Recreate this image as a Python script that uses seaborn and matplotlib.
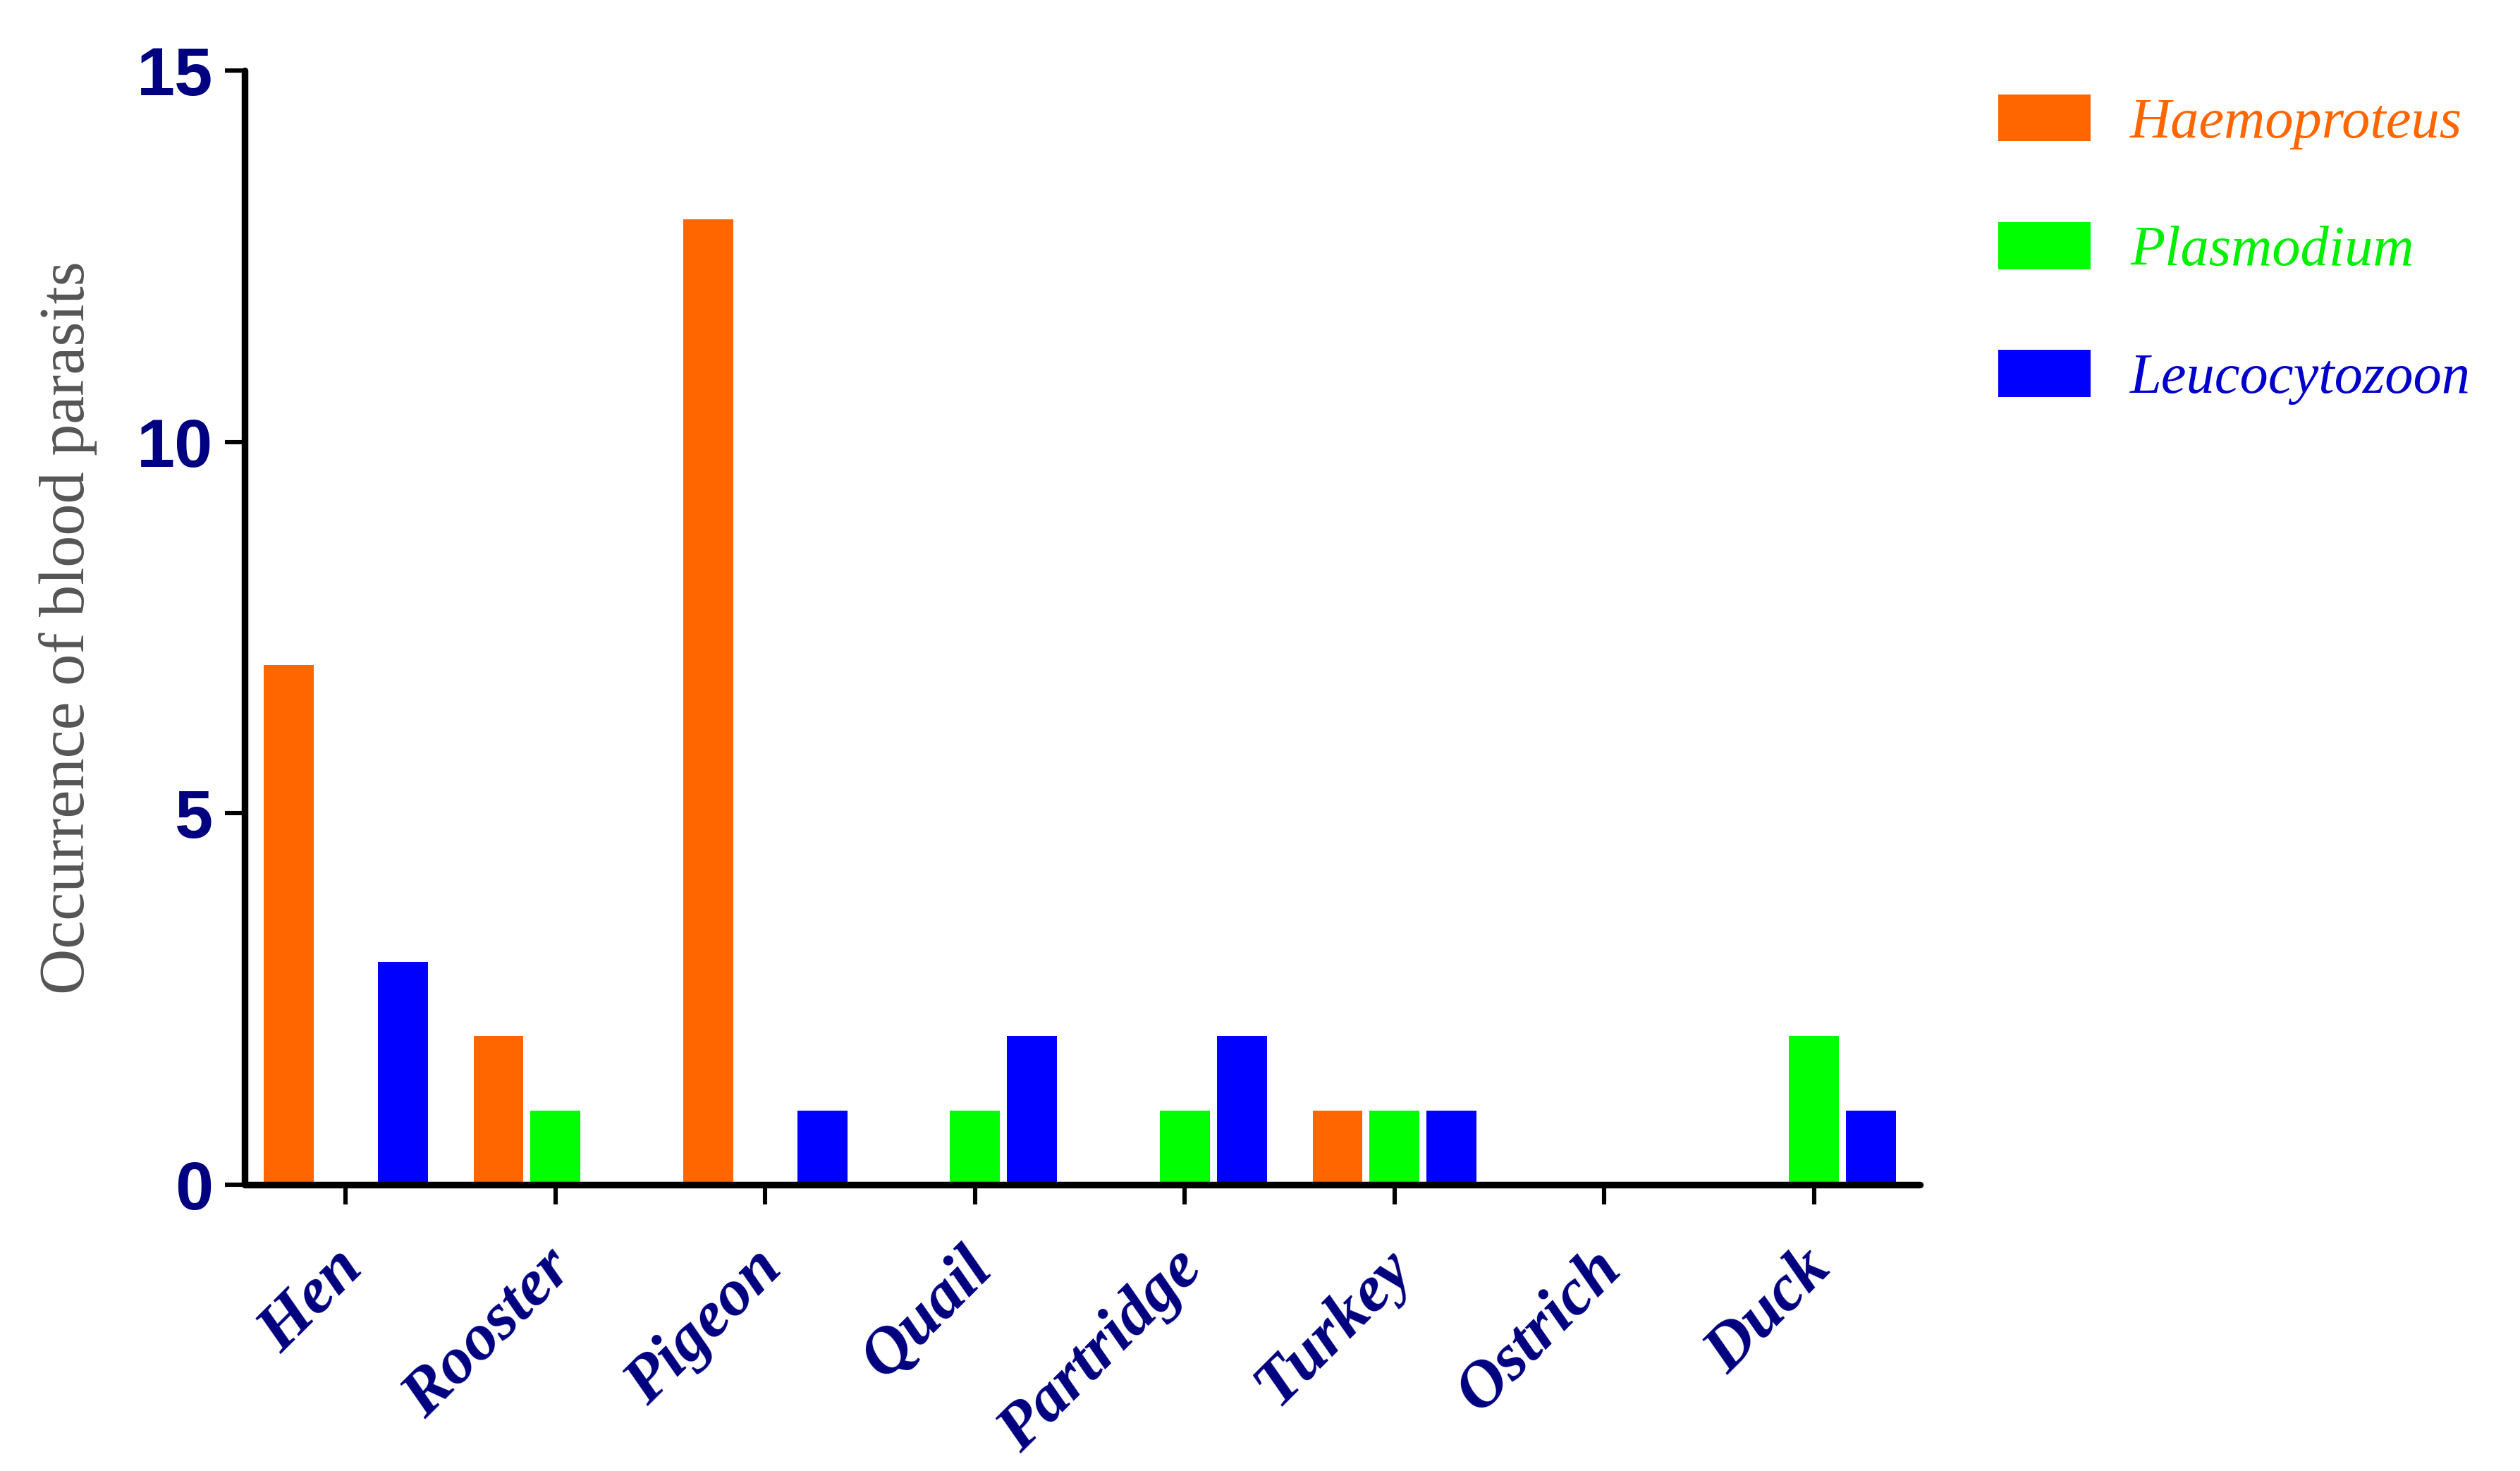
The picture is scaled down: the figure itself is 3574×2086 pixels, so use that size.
import seaborn as sns
import matplotlib.pyplot as plt
import matplotlib.transforms as mtransforms
import pandas as pd

# values
birds = ["Hen", "Rooster", "Pigeon", "Quail", "Partridge", "Turkey", "Ostrich", "Duck"]
haemoproteus = [7, 2, 13, 0, 0, 1, 0, 0]
plasmodium = [0, 1, 0, 1, 1, 1, 0, 2]
leucocytozoon = [3, 0, 1, 2, 2, 1, 0, 1]

parasites = ["Haemoproteus", "Plasmodium", "Leucocytozoon"]
bar_colors = ["#FF6600", "#00FF00", "#0000FF"]
text_colors = ["#FF6600", "#00F000", "#0000CC"]
y_ticks = [0, 5, 10, 15]

df = pd.DataFrame({"Bird": birds,
                   "Haemoproteus": haemoproteus,
                   "Plasmodium": plasmodium,
                   "Leucocytozoon": leucocytozoon})
df = df.melt(id_vars="Bird", var_name="Parasite", value_name="Count")

sns.set_style("ticks")
plt.rcParams['font.family'] = ['Liberation Serif', 'DejaVu Serif']

fig = plt.figure(figsize=(17.87, 10.43), dpi=200)
ax = fig.add_axes([0.097, 0.1946, 0.665, 0.7574])

sns.barplot(data=df, x="Bird", y="Count", hue="Parasite",
            order=birds, hue_order=parasites, palette=bar_colors,
            width=0.816, gap=0.125, saturation=1, linewidth=0, ax=ax)

ax.set_ylim(0, 15)
ax.set_xlim(-0.483, 7.506)
ax.set_yticks(y_ticks)
ax.set_xlabel("")
ax.set_ylabel("Occurrence of blood parasits", fontsize=32.5, color="#555555",
              family="Liberation Serif", labelpad=20)

sns.despine(ax=ax)
for side in ["left", "bottom"]:
    ax.spines[side].set_linewidth(3.4)
    ax.spines[side].set_color("black")
    ax.spines[side].set_capstyle("round")

ax.tick_params(axis="both", length=10, width=2.2, color="black")
ax.tick_params(axis="y", pad=6)
ax.tick_params(axis="x", pad=28)

for lab in ax.get_yticklabels():
    lab.set_family("Liberation Sans")
    lab.set_fontweight("bold")
    lab.set_fontsize(35)
    lab.set_color("#000080")

shift = mtransforms.ScaledTranslation(0.055, 0, fig.dpi_scale_trans)
for lab in ax.get_xticklabels():
    lab.set_family("Liberation Serif")
    lab.set_fontweight("bold")
    lab.set_fontstyle("italic")
    lab.set_fontsize(34)
    lab.set_color("#000080")
    lab.set_rotation(45)
    lab.set_ha("right")
    lab.set_va("center")
    lab.set_rotation_mode("anchor")
    lab.set_transform(lab.get_transform() + shift)

handles, labels = ax.get_legend_handles_labels()
ax.get_legend().remove()
leg = fig.legend(handles, labels, loc="upper left",
                 bbox_to_anchor=(0.793, 0.936), bbox_transform=fig.transFigure,
                 frameon=False, prop={"family": "Liberation Serif", "style": "italic", "size": 29},
                 handlelength=1.62, handleheight=0.9, handletextpad=0.7,
                 labelspacing=1.28, borderpad=0, borderaxespad=0)
for txt, c in zip(leg.get_texts(), text_colors):
    txt.set_color(c)

fig.savefig("out.png", dpi=200)
